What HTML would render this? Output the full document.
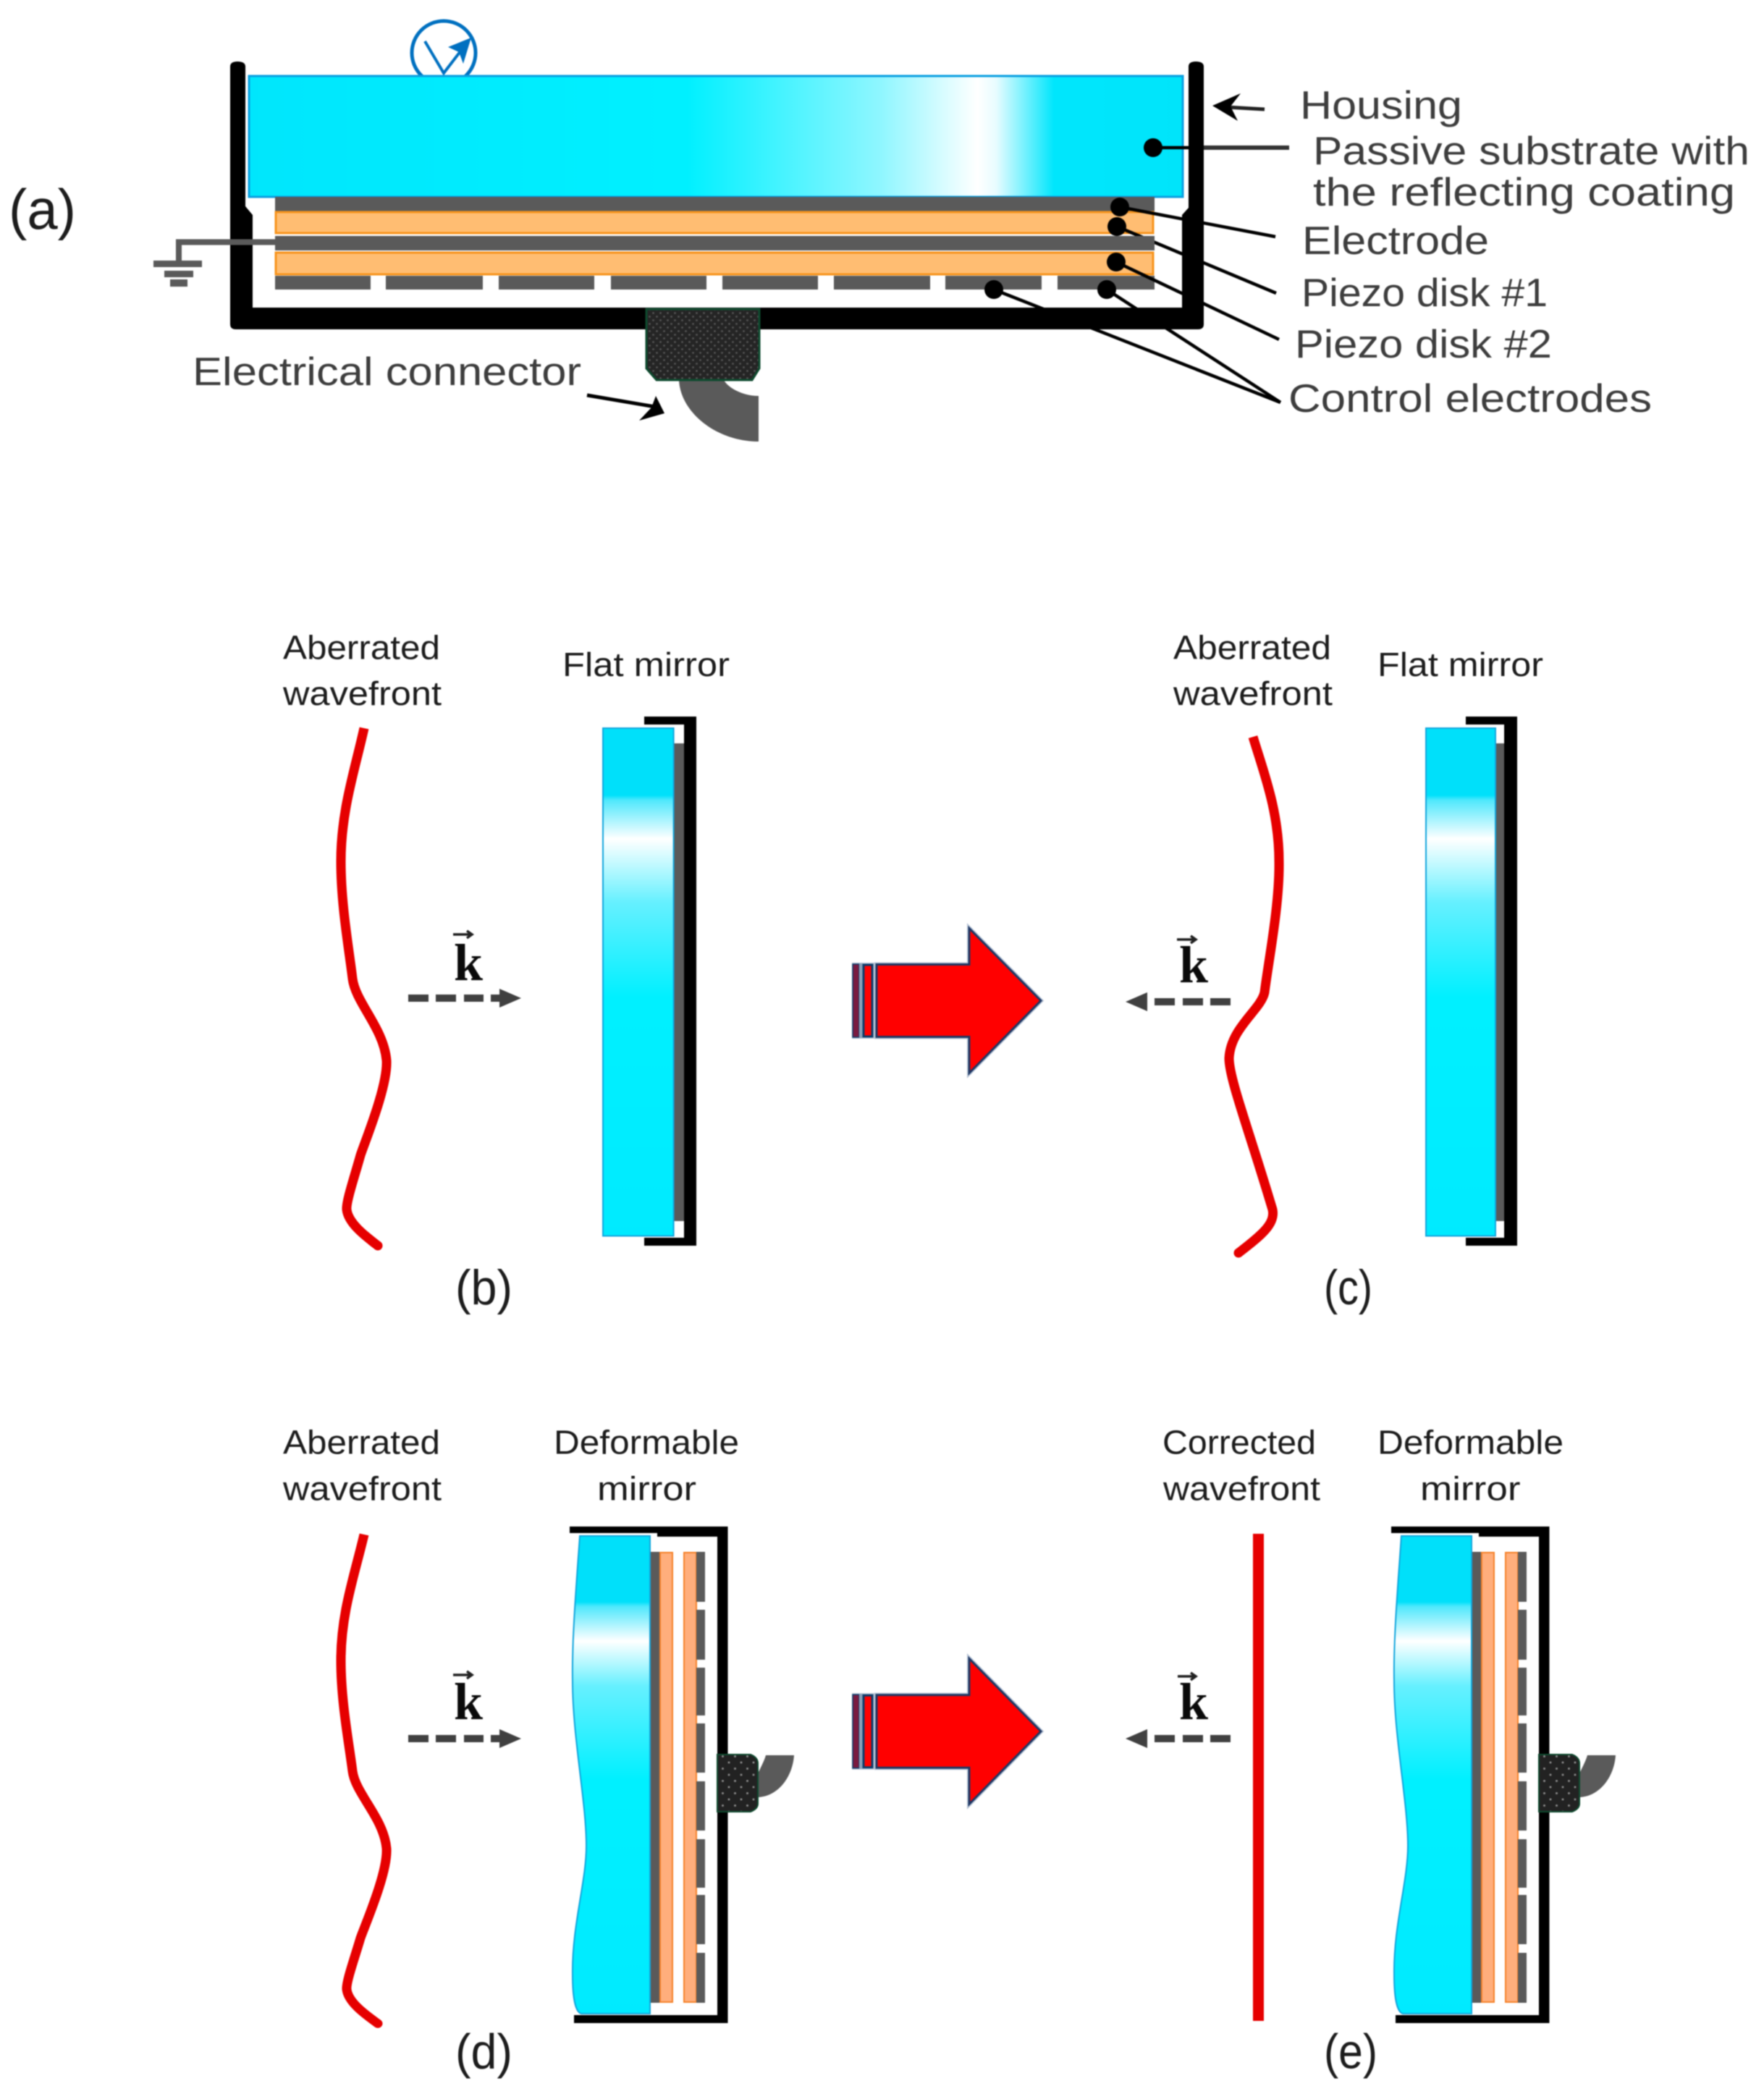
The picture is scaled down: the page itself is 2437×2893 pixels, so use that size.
<!DOCTYPE html>
<html>
<head>
<meta charset="utf-8">
<style>
html,body{margin:0;padding:0;background:#fff;width:2437px;height:2893px;overflow:hidden}
svg{display:block;filter:blur(.7px)}
text{font-family:"Liberation Sans",sans-serif}
.a{font-size:55px;fill:#3d3d3d}
.b{font-size:46px;fill:#1c1c1c}
.p{font-size:78px;fill:#1c1c1c}
.q{font-size:68px;fill:#1c1c1c}
.k{font-family:"Liberation Serif",serif;font-weight:bold;font-size:72px;fill:#0a0a0a}
</style>
</head>
<body>
<svg xmlns="http://www.w3.org/2000/svg" width="2437" height="2893" viewBox="0 0 2437 2893">
<defs>
<linearGradient id="ga" gradientUnits="userSpaceOnUse" x1="344" y1="0" x2="1634" y2="0">
<stop offset="0" stop-color="#00e6fc"/><stop offset=".469" stop-color="#00f0ff"/>
<stop offset=".678" stop-color="#90f6ff"/><stop offset=".78" stop-color="#fff"/>
<stop offset=".80" stop-color="#e8fcff"/><stop offset=".862" stop-color="#00e6fc"/><stop offset="1" stop-color="#00e4fa"/>
</linearGradient>
<linearGradient id="gb" gradientUnits="userSpaceOnUse" x1="0" y1="1006" x2="0" y2="1708">
<stop offset="0" stop-color="#00e0fa"/><stop offset=".132" stop-color="#00e0fa"/><stop offset=".142" stop-color="#50e8fc"/>
<stop offset=".218" stop-color="#fff"/><stop offset=".342" stop-color="#66f0ff"/>
<stop offset=".529" stop-color="#00f0ff"/><stop offset="1" stop-color="#00eaff"/>
</linearGradient>
<linearGradient id="gd" gradientUnits="userSpaceOnUse" x1="0" y1="2122" x2="0" y2="2782">
<stop offset="0" stop-color="#00e0fa"/><stop offset=".138" stop-color="#00e0fa"/><stop offset=".148" stop-color="#50e8fc"/>
<stop offset=".22" stop-color="#fff"/><stop offset=".314" stop-color="#66f0ff"/>
<stop offset=".509" stop-color="#00f0ff"/><stop offset="1" stop-color="#00eaff"/>
</linearGradient>
<pattern id="dots" width="10" height="10" patternUnits="userSpaceOnUse">
<rect width="10" height="10" fill="#252525"/><circle cx="2.5" cy="2.5" r="1.4" fill="#555"/><circle cx="7.5" cy="7.5" r="1.4" fill="#555"/>
</pattern>
<pattern id="dots2" width="17" height="17" patternUnits="userSpaceOnUse">
<rect width="17" height="17" fill="#222"/><circle cx="4" cy="4" r="1.5" fill="#8a8a8a"/><circle cx="12.5" cy="12.5" r="1.5" fill="#8a8a8a"/>
</pattern>
<g id="deform">
<path d="M787 2109H1005.5V2795H793V2784H991V2123H908V2118H787Z" fill="#000"/>
<rect x="898" y="2144" width="14" height="623" fill="#5a5a5a"/>
<rect x="912" y="2145" width="17" height="621" fill="#ffae7c" stroke="#f5822a" stroke-width="2"/>
<rect x="945" y="2145" width="17" height="621" fill="#ffae7c" stroke="#f5822a" stroke-width="2"/>
<g fill="#5a5a5a">
<rect x="962" y="2144" width="12" height="69"/><rect x="962" y="2224" width="12" height="69"/>
<rect x="962" y="2304" width="12" height="66"/><rect x="962" y="2381" width="12" height="68"/>
<rect x="962" y="2461" width="12" height="68"/><rect x="962" y="2541" width="12" height="67"/>
<rect x="962" y="2618" width="12" height="68"/><rect x="962" y="2698" width="12" height="69"/>
</g>
<path d="M801 2122C797 2180 790 2260 791 2323C791 2400 810 2490 810 2550C810 2600 790 2660 791 2728C791 2760 795 2780 803 2782L898 2782L898 2122Z" fill="url(#gd)" stroke="#12a5dc" stroke-width="2"/>
<path d="M1097 2425C1095 2455 1075 2482 1047 2483L1047 2450C1052 2440 1056 2432 1058 2425Z" fill="#5a5a5a"/>
<path d="M991 2424H1037Q1047 2428 1047 2436V2492Q1047 2499 1037 2503H991Z" fill="url(#dots2)" stroke="#0e4a2e" stroke-width="2"/>
</g>
<g id="wave">
<path d="M503 1006C490 1065 471 1120 471 1190C471 1250 482 1310 487 1352C491 1385 530 1420 534 1465C536 1500 505 1575 498 1596C490 1625 478 1660 479 1671C481 1690 505 1708 522 1721" fill="none" stroke="#e60000" stroke-width="13"/>
<circle cx="522" cy="1721" r="6.5" fill="#e60000"/>
</g>
<g id="bigarrow">
<path d="M1211 1332.5H1339V1282.5L1438 1382.5L1339 1482.5V1432.5H1211Z" fill="#ff0000" stroke="#b5c2d4" stroke-width="6"/>
<rect x="1177" y="1330" width="35" height="105" fill="#b5c2d4"/>
<rect x="1178" y="1332" width="9" height="101" fill="#7a1a40" stroke="#0c3c6a" stroke-width="1.5"/>
<rect x="1187" y="1331" width="5" height="103" fill="#8aa0b8"/>
<rect x="1193" y="1333" width="12" height="99" fill="#ff0000" stroke="#0c3c6a" stroke-width="3"/>
<path d="M1211 1332.5H1339V1282.5L1438 1382.5L1339 1482.5V1432.5H1211Z" fill="#ff0000" stroke="#1f3864" stroke-width="3"/>
</g>
<g id="kr" fill="#404040">
<rect x="564" y="1374" width="28" height="10"/><rect x="602" y="1374" width="28" height="10"/>
<rect x="641" y="1374" width="27" height="10"/><rect x="678" y="1374" width="14" height="10"/>
<path d="M690 1366L720 1379L690 1392Z"/>
</g>
<g id="kl" fill="#404040">
<path d="M1585 1371L1555 1384L1585 1397Z"/>
<rect x="1595" y="1379" width="28" height="10"/><rect x="1634" y="1379" width="28" height="10"/>
<rect x="1672" y="1379" width="28" height="10"/>
</g>
</defs>
<rect width="2437" height="2893" fill="#fff"/>

<!-- Panel a -->
<ellipse cx="613" cy="73" rx="44" ry="44" fill="#fff" stroke="#0070c0" stroke-width="5"/>
<path d="M587 57L613 101L646 58" fill="none" stroke="#0070c0" stroke-width="4"/>
<path d="M651 52L619 65L634 72L640 88Z" fill="#0070c0"/>

<path d="M318 92Q318 85 328 85Q339 85 339 92V285L349 297V425H1633V297L1642 287V92Q1642 85 1652 85Q1663 85 1663 92V448Q1663 455 1655 455H326Q318 455 318 448Z" fill="#000"/>
<rect x="344" y="105" width="1290" height="167" fill="url(#ga)" stroke="#0a9fe0" stroke-width="3"/>

<rect x="380" y="272" width="1215" height="20" fill="#5a5a5a"/>
<rect x="381" y="293" width="1212" height="29" fill="#ffbd72" stroke="#f7941d" stroke-width="3"/>
<rect x="381" y="349" width="1212" height="30" fill="#ffbd72" stroke="#f7941d" stroke-width="3"/>

<g fill="#5a5a5a">
<rect x="380" y="381" width="132" height="19"/><rect x="533" y="381" width="134" height="19"/>
<rect x="689" y="381" width="132" height="19"/><rect x="844" y="381" width="132" height="19"/>
<rect x="998" y="381" width="132" height="19"/><rect x="1152" y="381" width="133" height="19"/>
<rect x="1306" y="381" width="133" height="19"/><rect x="1461" y="381" width="134" height="19"/>
</g>

<g stroke="#000" stroke-width="4.5" fill="none">
<path d="M1547 286L1762 327"/><path d="M1543 313L1763 405"/><path d="M1542 362L1767 469"/>
<path d="M1373 400L1769 556"/><path d="M1529 400L1769 556"/>
<path d="M1593 204H1642"/><path d="M1663 204H1781" stroke="#333" stroke-width="6"/>
</g>
<rect x="380" y="326" width="1215" height="20" fill="#5a5a5a"/>
<path d="M380 334.5H247V360" fill="none" stroke="#5a5a5a" stroke-width="8"/>
<g fill="#5a5a5a"><rect x="212" y="360" width="67" height="9"/><rect x="227" y="374" width="40" height="9"/><rect x="235" y="386" width="24" height="10"/></g>

<g fill="#000">
<circle cx="1593" cy="204" r="13"/><circle cx="1547" cy="286" r="13"/><circle cx="1543" cy="313" r="13"/>
<circle cx="1542" cy="362" r="13"/><circle cx="1373" cy="400" r="13"/><circle cx="1529" cy="400" r="13"/>
</g>

<path d="M938 525C940 570 990 610 1048 610L1048 547C1025 547 1005 535 1000 525Z" fill="#5a5a5a"/>
<path d="M893 427H1049V509L1039 525H907L893 509Z" fill="url(#dots)" stroke="#0e4a2e" stroke-width="3"/>

<path d="M811 546L905 562" stroke="#000" stroke-width="5" fill="none"/>
<path d="M918 571L906 547L900 563L883 581Z" fill="#000"/>
<path d="M1747 151L1695 148" stroke="#222" stroke-width="5" fill="none"/>
<path d="M1675 146L1714 129L1700 147L1710 167Z" fill="#000"/>

<text class="p" x="12" y="316" textLength="93" lengthAdjust="spacingAndGlyphs">(a)</text>
<text class="a" x="1796" y="164" textLength="224" lengthAdjust="spacingAndGlyphs">Housing</text>
<text class="a" x="1814" y="227" textLength="603" lengthAdjust="spacingAndGlyphs">Passive substrate with</text>
<text class="a" x="1814" y="284" textLength="583" lengthAdjust="spacingAndGlyphs">the reflecting coating</text>
<text class="a" x="1799" y="351" textLength="258" lengthAdjust="spacingAndGlyphs">Electrode</text>
<text class="a" x="1798" y="423" textLength="340" lengthAdjust="spacingAndGlyphs">Piezo disk #1</text>
<text class="a" x="1789" y="494" textLength="355" lengthAdjust="spacingAndGlyphs">Piezo disk #2</text>
<text class="a" x="1780" y="569" textLength="502" lengthAdjust="spacingAndGlyphs">Control electrodes</text>
<text class="a" x="266" y="532" textLength="537" lengthAdjust="spacingAndGlyphs">Electrical connector</text>

<!-- Panel b -->
<text class="b" x="391" y="910.6" textLength="217" lengthAdjust="spacingAndGlyphs">Aberrated</text>
<text class="b" x="391" y="974" textLength="219" lengthAdjust="spacingAndGlyphs">wavefront</text>
<text class="b" x="777" y="934" textLength="231" lengthAdjust="spacingAndGlyphs">Flat mirror</text>
<use href="#wave"/>
<path d="M890 990H962V1721H890V1710H945V1001H890Z" fill="#000"/>
<rect x="930.6" y="1027" width="14.4" height="660" fill="#5a5a5a"/>
<rect x="833" y="1006" width="97.6" height="701.5" fill="url(#gb)" stroke="#12a5dc" stroke-width="2"/>
<use href="#kr"/>
<text class="k" x="627" y="1354">k</text>
<path d="M626 1291H650M645 1286L652 1291L645 1296" fill="none" stroke="#222" stroke-width="3.5"/>
<use href="#bigarrow"/>
<text class="q" x="629" y="1802" textLength="79" lengthAdjust="spacingAndGlyphs">(b)</text>

<!-- Panel c -->
<text class="b" x="1621" y="910.6" textLength="218" lengthAdjust="spacingAndGlyphs">Aberrated</text>
<text class="b" x="1621" y="974" textLength="220" lengthAdjust="spacingAndGlyphs">wavefront</text>
<text class="b" x="1903" y="934" textLength="229" lengthAdjust="spacingAndGlyphs">Flat mirror</text>
<path d="M1731 1018C1745 1065 1767 1120 1767 1190C1768 1250 1752 1330 1747 1371C1742 1395 1700 1420 1698 1462C1698 1490 1725 1560 1758 1671C1762 1690 1745 1705 1711 1731" fill="none" stroke="#e60000" stroke-width="13"/>
<circle cx="1711" cy="1731" r="6.5" fill="#e60000"/>
<path d="M2025 990H2096V1721H2025V1710H2078V1001H2025Z" fill="#000"/>
<rect x="2066" y="1027" width="12" height="660" fill="#5a5a5a"/>
<rect x="1970" y="1006" width="96" height="701.5" fill="url(#gb)" stroke="#12a5dc" stroke-width="2"/>
<use href="#kl"/>
<text class="k" x="1629" y="1357">k</text>
<path d="M1626 1298H1650M1645 1293L1652 1298L1645 1303" fill="none" stroke="#222" stroke-width="3.5"/>
<text class="q" x="1829" y="1802" textLength="67" lengthAdjust="spacingAndGlyphs">(c)</text>

<!-- Panel d -->
<text class="b" x="391" y="2008.6" textLength="217" lengthAdjust="spacingAndGlyphs">Aberrated</text>
<text class="b" x="391" y="2072.5" textLength="219" lengthAdjust="spacingAndGlyphs">wavefront</text>
<text class="b" x="765" y="2008.6" textLength="256" lengthAdjust="spacingAndGlyphs">Deformable</text>
<text class="b" x="825" y="2072.5" textLength="137" lengthAdjust="spacingAndGlyphs">mirror</text>
<use href="#wave" transform="translate(0 2120) scale(1 .945) translate(0 -1006)"/>
<use href="#deform"/>
<use href="#kr" transform="translate(0 1023)"/>
<text class="k" x="627" y="2375">k</text>
<path d="M626 2314H650M645 2309L652 2314L645 2319" fill="none" stroke="#222" stroke-width="3.5"/>
<use href="#bigarrow" transform="translate(0 2392) scale(1 1.005) translate(0 -1382.5)"/>
<text class="q" x="629" y="2857.5" textLength="79" lengthAdjust="spacingAndGlyphs">(d)</text>

<!-- Panel e -->
<text class="b" x="1606" y="2008.6" textLength="212" lengthAdjust="spacingAndGlyphs">Corrected</text>
<text class="b" x="1607" y="2072.5" textLength="217" lengthAdjust="spacingAndGlyphs">wavefront</text>
<text class="b" x="1903" y="2008.6" textLength="257" lengthAdjust="spacingAndGlyphs">Deformable</text>
<text class="b" x="1962" y="2072.5" textLength="138.5" lengthAdjust="spacingAndGlyphs">mirror</text>
<rect x="1731" y="2119" width="15" height="673" fill="#e60000"/>
<use href="#deform" transform="translate(1135 0)"/>
<use href="#kl" transform="translate(0 1018)"/>
<text class="k" x="1629" y="2375">k</text>
<path d="M1627 2316H1650M1645 2311L1652 2316L1645 2321" fill="none" stroke="#222" stroke-width="3.5"/>
<text class="q" x="1829" y="2857.5" textLength="74" lengthAdjust="spacingAndGlyphs">(e)</text>
</svg>
</body>
</html>
